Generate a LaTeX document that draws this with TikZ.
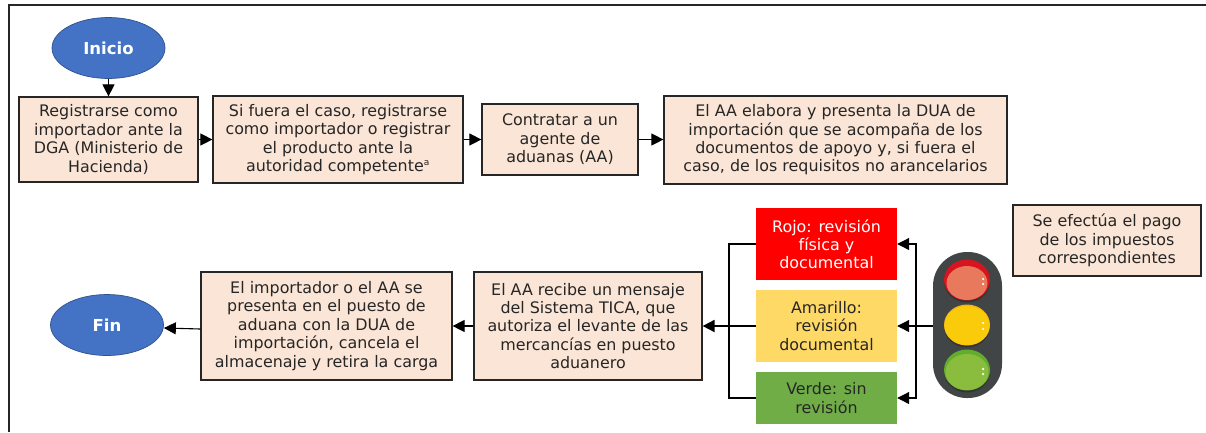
\documentclass[tikz,border=0pt]{standalone}
\usepackage{fontspec}
\setmainfont{DejaVu Sans}
\usetikzlibrary{arrows.meta,shapes.geometric}
\definecolor{peach}{HTML}{FBE5D6}
\definecolor{blueov}{HTML}{4472C4}
\definecolor{blueln}{HTML}{2F528F}
\definecolor{amber}{HTML}{FFD966}
\definecolor{grn}{HTML}{70AD47}
\definecolor{housing}{HTML}{414546}
\definecolor{redring}{HTML}{D8141F}
\definecolor{redlamp}{HTML}{E8795C}
\definecolor{ambring}{HTML}{F3B70F}
\definecolor{amblamp}{HTML}{F9CB0B}
\definecolor{grnring}{HTML}{62AD2B}
\definecolor{grnlamp}{HTML}{8ABD3E}
\tikzset{
  x=1pt,y=-1pt,
  peachbox/.style={draw=black!85,line width=1.2pt,fill=peach,align=center,inner sep=0pt,
    font=\fontsize{15.9}{18.4}\selectfont,text=black!85},
  colbox/.style={align=center,inner sep=0pt,font=\fontsize{15.9}{18.2}\selectfont,text=black!85},
  oval/.style={ellipse,draw=blueln,line width=.7pt,fill=blueov,text=white,inner sep=0pt,
    font=\fontsize{16.5}{18}\selectfont\bfseries},
  flow/.style={draw=black,line width=1.1pt,-{Triangle[length=12pt,width=12pt]}},
  plainline/.style={draw=black,line width=1.1pt},
  heavyflow/.style={draw=black,line width=1.8pt,-{Triangle[length=12pt,width=12pt]}},
  heavyline/.style={draw=black,line width=1.8pt},
  lampshadow/.style={ellipse,fill=black!80,inner sep=0pt,minimum width=46pt,minimum height=42pt},
  lampring/.style={ellipse,inner sep=0pt,minimum width=46pt,minimum height=41pt},
  lampcore/.style={ellipse,inner sep=0pt,minimum width=41pt,minimum height=34pt},
  glint/.style={circle,fill=white,inner sep=0pt,minimum size=2.5pt},
}
\newcommand{\pbox}[6]{\node[peachbox,minimum width=#4-#2,minimum height=#5-#3] (#1) at ({(#2+#4)/2},{(#3+#5)/2}) {#6};}
\newcommand{\cbox}[7]{\node[colbox,fill=#6,minimum width=#4-#2,minimum height=#5-#3] (#1) at ({(#2+#4)/2},{(#3+#5)/2}) {#7};}
\begin{document}
\begin{tikzpicture}
\useasboundingbox (0,0) rectangle (1206,432);
\fill[white] (0,0) rectangle (1206,432);
\coordinate (fTL) at (9,5);
\coordinate (fTR) at (1206,5);
\coordinate (fBL) at (9,432);
\draw[black!85,line width=1.2pt] (fBL) -- (fTL) -- (fTR);
\node[oval,minimum width=113pt,minimum height=61pt] (ini) at (108.5,48) {Inicio};
\node[oval,minimum width=113pt,minimum height=61pt] (fin) at (107,325) {Fin};
\pbox{a}{19}{97}{198}{182}{Registrarse como\\importador ante la\\DGA (Ministerio de\\Hacienda)}
\pbox{b}{213}{96}{463}{183}{Si fuera el caso, registrarse\\como importador o registrar\\el producto ante la\\autoridad competente\textsuperscript{\fontsize{9}{9}\selectfont a}}
\pbox{c}{482}{104}{638}{175}{Contratar a un\\agente de\\aduanas (AA)}
\pbox{d}{664}{96}{1007}{184}{El AA elabora y presenta la DUA de\\importación que se acompaña de los\\documentos de apoyo y, si fuera el\\caso, de los requisitos no arancelarios}
\pbox{e}{201}{272}{452}{380}{El importador o el AA se\\presenta en el puesto de\\aduana con la DUA de\\importación, cancela el\\almacenaje y retira la carga}
\pbox{g}{474}{272}{702}{380}{El AA recibe un mensaje\\del Sistema TICA, que\\autoriza el levante de las\\mercancías en puesto\\aduanero}
\pbox{p}{1013}{205}{1201}{276}{Se efectúa el pago\\de los impuestos\\correspondientes}
\cbox{r}{756}{208}{897}{280}{red}{\textcolor{white}{Rojo: revisión}\\\textcolor{white}{física y}\\\textcolor{white}{documental}}
\cbox{y}{756}{290}{897}{362}{amber}{Amarillo:\\revisión\\documental}
\cbox{v}{756}{372}{897}{424}{grn}{Verde: sin\\revisión}
% traffic light
\node[fill=housing,rounded corners=34pt,inner sep=0pt,minimum width=69pt,minimum height=146pt] (tl) at (967.5,325) {};
\node[lampshadow] (s1) at (967,281.5) {};
\node[lampshadow] (s2) at (967,326.5) {};
\node[lampshadow] (s3) at (967,371.5) {};
\node[lampring,fill=redring] (l1) at (967,280) {};
\node[lampcore,fill=redlamp] (l1c) at (967,283) {};
\node[lampring,fill=ambring] (l2) at (967,325) {};
\node[lampcore,fill=amblamp,minimum width=45pt,minimum height=39pt] (l2c) at (967,325.5) {};
\node[lampring,fill=grnring] (l3) at (967,370) {};
\node[lampcore,fill=grnlamp,minimum width=43pt,minimum height=36pt] (l3c) at (967,372) {};
\node[glint] (g1a) at (983,279) {};
\node[glint] (g1b) at (983,284) {};
\node[glint] (g2a) at (983,323) {};
\node[glint] (g2b) at (983,329) {};
\node[glint] (g3a) at (983,369) {};
\node[glint] (g3b) at (983,374) {};
% connectors
\coordinate (split) at (916,326);
\coordinate (coll) at (729,326);
\draw[flow] (ini) -- (a);
\draw[flow] (a) -- (b);
\draw[flow] (b.east|-c.east) -- (c);
\draw[flow] (c.east) -- (d.west|-c.east);
\draw[heavyline] (tl.west|-split) -- (split);
\draw[flow] (split) -- (y.east);
\draw[flow] (split) |- (r.east);
\draw[flow] (split) |- (v.east);
\draw[plainline] (r.west) -| (coll);
\draw[plainline] (v.west) -| (coll);
\draw[plainline] (y.west) -- (coll);
\draw[heavyflow] (coll) -- (g.east);
\draw[flow] (g.west) -- (e.east);
\draw[flow] ([yshift=-3pt]e.west) -- ([yshift=-3pt]fin.east);
\end{tikzpicture}
\end{document}
